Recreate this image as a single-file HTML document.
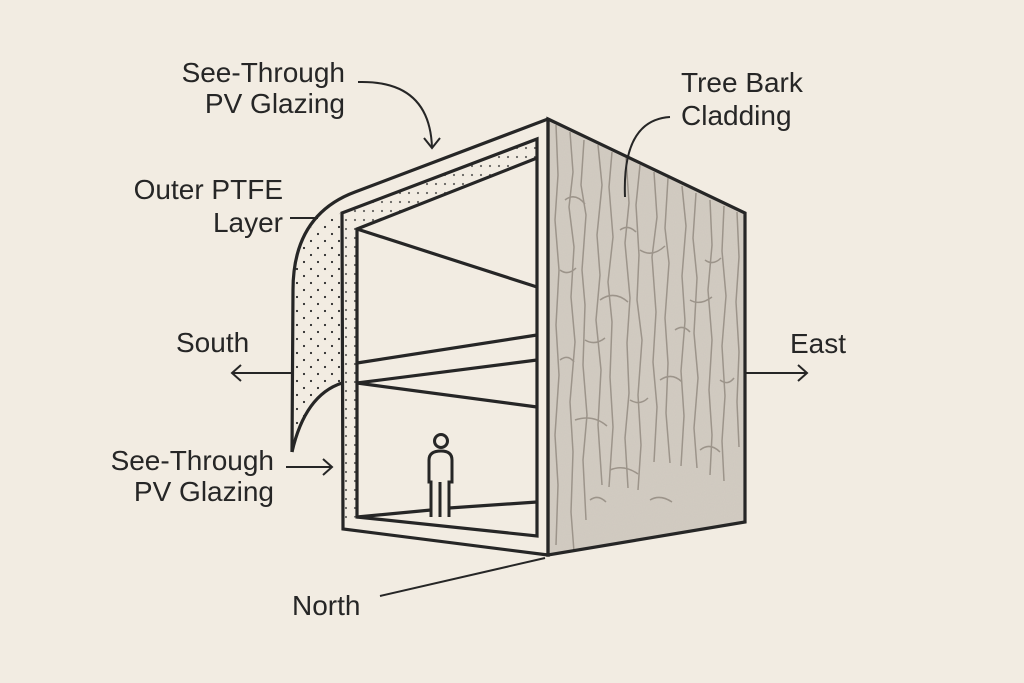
<!DOCTYPE html>
<html><head><meta charset="utf-8"><style>
html,body{margin:0;padding:0;background:#f2ece2;}
svg{display:block}
text{font-family:"Liberation Sans",sans-serif;font-size:28px;fill:#262626}
</style></head><body>
<svg width="1024" height="683" viewBox="0 0 1024 683" xmlns="http://www.w3.org/2000/svg">
<defs>
<filter id="bk" x="0" y="0" width="100%" height="100%">
<feTurbulence type="fractalNoise" baseFrequency="0.9" numOctaves="2" seed="3" result="n"/>
<feColorMatrix in="n" type="matrix" values="0 0 0 0 0.55  0 0 0 0 0.52  0 0 0 0 0.48  0 0 0 0.35 0"/>
<feComposite in2="SourceGraphic" operator="in"/>
</filter>
<pattern id="dots" width="14" height="14" patternUnits="userSpaceOnUse">
<circle cx="3" cy="3" r="1.1" fill="#2a2a2a"/><circle cx="10" cy="10" r="1.1" fill="#2a2a2a"/>
</pattern>
<pattern id="dots2" width="9" height="9" patternUnits="userSpaceOnUse">
<circle cx="4" cy="4" r="1.1" fill="#2a2a2a"/>
</pattern>
</defs>
<rect width="1024" height="683" fill="#f2ece2"/>

<!-- bark face -->
<polygon points="548,119 745,213 745,522 548,555" fill="#d3ccc2"/>
<polygon points="548,119 745,213 745,522 548,555" fill="#fff" filter="url(#bk)"/>
<g fill="none" stroke="#9c948a" stroke-width="1.5" stroke-linejoin="round">
<path d="M556,125 l2,50 -3,45 4,50 -3,55 3,50 -4,60 3,50 -2,60"/>
<path d="M570,132 l3,40 -4,35 5,40 -3,50 4,45 -5,60 3,50 -2,60 3,40"/>
<path d="M584,140 l-3,45 5,30 -4,55 3,35 -2,60 4,50 -4,45 3,60"/>
<path d="M598,145 l4,40 -5,50 3,40 -4,45 5,50 -3,55 4,60"/>
<path d="M612,152 l-3,35 4,50 -5,45 4,40 -2,55 3,50 -4,60"/>
<path d="M626,158 l3,45 -4,40 5,55 -3,45 2,50 -4,45 3,50"/>
<path d="M640,165 l-4,40 3,50 -2,45 5,40 -4,55 3,50 -3,45"/>
<path d="M654,172 l3,45 -5,40 4,55 -3,50 4,45 -3,55"/>
<path d="M668,178 l-3,50 4,35 -4,55 3,45 -2,50 4,50"/>
<path d="M682,186 l4,40 -4,50 3,45 -4,50 3,45 -3,50"/>
<path d="M696,193 l-3,45 4,40 -3,55 4,45 -4,50 3,40"/>
<path d="M710,200 l2,45 -4,45 4,50 -3,50 3,45 -2,40"/>
<path d="M724,206 l-2,45 4,45 -4,50 3,50 -3,45 2,40"/>
<path d="M737,212 l2,45 -3,45 3,50 -2,50 2,45"/>
<path d="M565,200 q10,-8 20,4 M600,300 q14,-10 28,2 M640,250 q12,8 25,-4 M575,420 q18,-6 32,6 M660,380 q12,-8 22,2 M690,300 q10,6 22,-3 M610,470 q14,-6 28,4 M700,450 q10,-8 20,2 M585,340 q10,6 20,-2 M650,500 q10,-6 22,2 M620,230 q8,-6 16,2 M705,260 q8,6 16,-2 M560,360 q8,-6 14,2 M630,400 q10,6 18,-2 M675,330 q8,-6 15,2 M720,380 q8,6 14,-2 M590,500 q8,-6 16,2 M560,270 q8,6 16,-2"/>
</g>

<g fill="none" stroke="#262626" stroke-width="3.2" stroke-linejoin="miter">
<!-- dotted regions -->
<path d="M342,213 L320,220 Q293,240 293,290 L292,452 Q305,395 342,383 Z" fill="url(#dots)" stroke="none"/>
<path d="M342,213 L537,139 L537,158 L357,229 L357,517 L342,520 Z" fill="url(#dots2)" stroke="none" opacity="0.7"/>
<path d="M548,119 L355,192 Q293,215 293,290 L292,452"/>
<path d="M292,452 Q305,395 342,383"/>
<!-- frame -->
<path d="M548,119 L548,555 L343,529 L342,213 L537,139 L537,536 L357,517 L357,229 L537,158"/>
<polygon points="548,119 745,213 745,522 548,555"/>
<!-- room lines -->
<path d="M357,229 L537,287 M357,363 L537,335 M357,383 L537,360 M357,383 L537,407 M357,517 L431,510 M449,508 L537,502"/>
</g>
<!-- person -->
<g fill="none" stroke="#262626" stroke-width="3">
<circle cx="441" cy="441" r="6.5"/>
<path d="M431,517 L431,482 L429,482 L429,460 Q429,451 441,451 Q452,451 452,460 L452,482 L449,482 L449,517 M440,482 L440,517"/>
</g>

<!-- leaders / arrows -->
<g fill="none" stroke="#262626" stroke-width="2">
<path d="M358,82 Q430,80 432,148"/><path d="M424,138 L432,148 L440,138"/>
<path d="M290,218 L318,218"/>
<path d="M292,373 L232,373"/><path d="M241,365 L232,373 L241,381"/>
<path d="M286,467 L332,467"/><path d="M323,459 L332,467 L323,475"/>
<path d="M745,373 L807,373"/><path d="M798,365 L807,373 L798,381"/>
<path d="M670,117 Q622,120 625,197"/>
<path d="M380,596 L545,558"/>
</g>

<text x="345" y="82" text-anchor="end">See-Through</text>
<text x="345" y="113" text-anchor="end">PV Glazing</text>
<text x="283" y="199" text-anchor="end">Outer PTFE</text>
<text x="283" y="232" text-anchor="end">Layer</text>
<text x="176" y="352">South</text>
<text x="274" y="470" text-anchor="end">See-Through</text>
<text x="274" y="501" text-anchor="end">PV Glazing</text>
<text x="681" y="92">Tree Bark</text>
<text x="681" y="125">Cladding</text>
<text x="790" y="353">East</text>
<text x="292" y="615">North</text>
</svg>
</body></html>
